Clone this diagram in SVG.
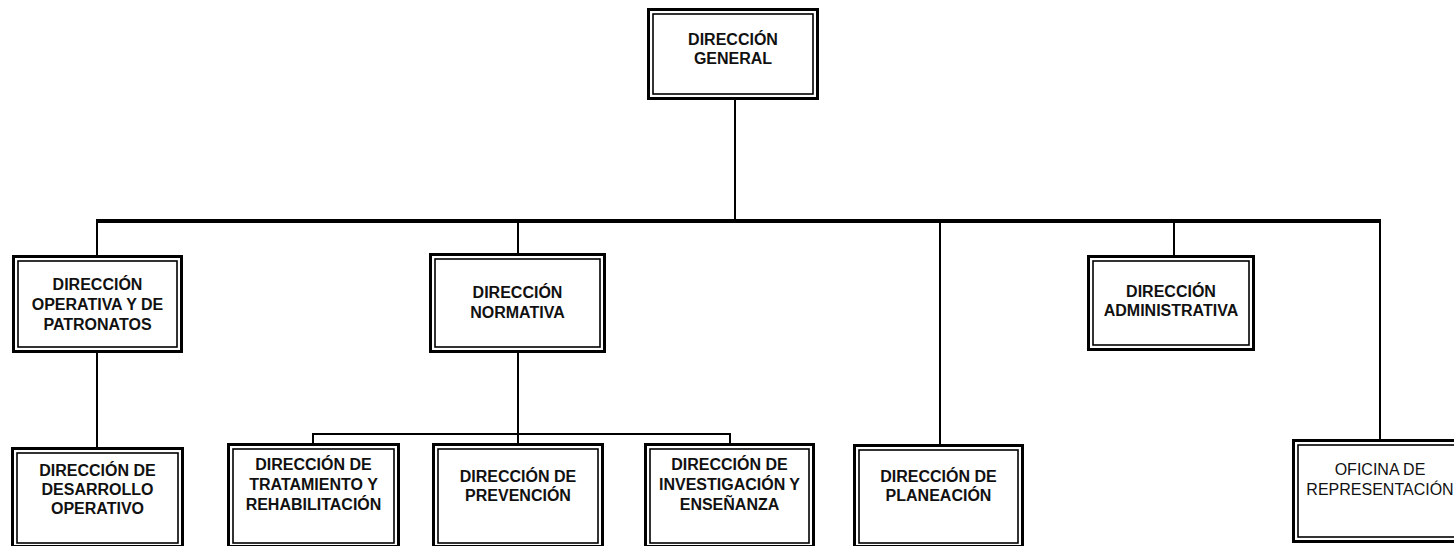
<svg xmlns="http://www.w3.org/2000/svg" width="1454" height="546" viewBox="0 0 1454 546">
<style>
.o{fill:#fff;stroke:#000;stroke-width:3}
.i{fill:none;stroke:#000;stroke-width:1.6}
.t{font-family:"Liberation Sans",Arial,sans-serif;font-size:16px;font-weight:bold;fill:#111;text-anchor:middle}
.t2{font-family:"Liberation Sans",Arial,sans-serif;font-size:16px;font-weight:normal;fill:#111;text-anchor:middle}
.c{stroke:#000;stroke-width:2;fill:none}
.cb{stroke:#000;stroke-width:4;fill:none}
</style>
<rect width="1454" height="546" fill="#fff"/>
<g id="connectors">
<line class="c" x1="735" y1="100" x2="735" y2="221"/>
<line class="cb" x1="96" y1="221" x2="1381" y2="221"/>
<line class="c" x1="97" y1="221" x2="97" y2="255"/>
<line class="c" x1="518" y1="221" x2="518" y2="253"/>
<line class="c" x1="940" y1="221" x2="940" y2="444"/>
<line class="c" x1="1174" y1="221" x2="1174" y2="255"/>
<line class="c" x1="1380" y1="221" x2="1380" y2="439"/>
<line class="c" x1="97" y1="353" x2="97" y2="447"/>
<line class="c" x1="518" y1="353" x2="518" y2="443"/>
<polyline class="c" points="313,443 313,434 730,434 730,443"/>
</g>
<g id="n-general">
<rect class="o" x="648.5" y="9.5" width="169" height="89"/>
<rect class="i" x="653" y="14" width="160" height="80"/>
<text class="t" x="733" y="45">DIRECCIÓN</text>
<text class="t" x="733" y="64">GENERAL</text>
</g>
<g id="n-operativa">
<rect class="o" x="13.5" y="256.5" width="168" height="95"/>
<rect class="i" x="18" y="261" width="159" height="86"/>
<text class="t" x="97.5" y="290">DIRECCIÓN</text>
<text class="t" x="97.5" y="310">OPERATIVA Y DE</text>
<text class="t" x="97.5" y="330">PATRONATOS</text>
</g>
<g id="n-normativa">
<rect class="o" x="430.5" y="254.5" width="174" height="97"/>
<rect class="i" x="435" y="259" width="165" height="88"/>
<text class="t" x="517.5" y="298">DIRECCIÓN</text>
<text class="t" x="517.5" y="318">NORMATIVA</text>
</g>
<g id="n-administrativa">
<rect class="o" x="1088.5" y="256.5" width="165" height="93"/>
<rect class="i" x="1093" y="261" width="156" height="84"/>
<text class="t" x="1171" y="297">DIRECCIÓN</text>
<text class="t" x="1171" y="316">ADMINISTRATIVA</text>
</g>
<g id="n-desarrollo">
<rect class="o" x="12.5" y="448.5" width="170" height="98"/>
<rect class="i" x="17" y="453" width="161" height="90"/>
<text class="t" x="97.5" y="476">DIRECCIÓN DE</text>
<text class="t" x="97.5" y="495">DESARROLLO</text>
<text class="t" x="97.5" y="514">OPERATIVO</text>
</g>
<g id="n-tratamiento">
<rect class="o" x="228.5" y="444.5" width="170" height="102"/>
<rect class="i" x="233" y="449" width="161" height="94"/>
<text class="t" x="313.5" y="470">DIRECCIÓN DE</text>
<text class="t" x="313.5" y="490">TRATAMIENTO Y</text>
<text class="t" x="313.5" y="510">REHABILITACIÓN</text>
</g>
<g id="n-prevencion">
<rect class="o" x="433.5" y="444.5" width="169" height="102"/>
<rect class="i" x="438" y="449" width="160" height="94"/>
<text class="t" x="518" y="482">DIRECCIÓN DE</text>
<text class="t" x="518" y="501">PREVENCIÓN</text>
</g>
<g id="n-investigacion">
<rect class="o" x="645.5" y="444.5" width="168" height="102"/>
<rect class="i" x="650" y="449" width="159" height="94"/>
<text class="t" x="729.5" y="470">DIRECCIÓN DE</text>
<text class="t" x="729.5" y="490">INVESTIGACIÓN Y</text>
<text class="t" x="729.5" y="510">ENSEÑANZA</text>
</g>
<g id="n-planeacion">
<rect class="o" x="854.5" y="445.5" width="168" height="101"/>
<rect class="i" x="859" y="450" width="159" height="93"/>
<text class="t" x="938.5" y="482">DIRECCIÓN DE</text>
<text class="t" x="938.5" y="501">PLANEACIÓN</text>
</g>
<g id="n-oficina">
<rect class="o" x="1293.5" y="440.5" width="173" height="101"/>
<rect class="i" x="1298" y="445" width="164" height="92"/>
<text class="t2" x="1380" y="475">OFICINA DE</text>
<text class="t2" x="1380" y="495">REPRESENTACIÓN</text>
</g>
</svg>
